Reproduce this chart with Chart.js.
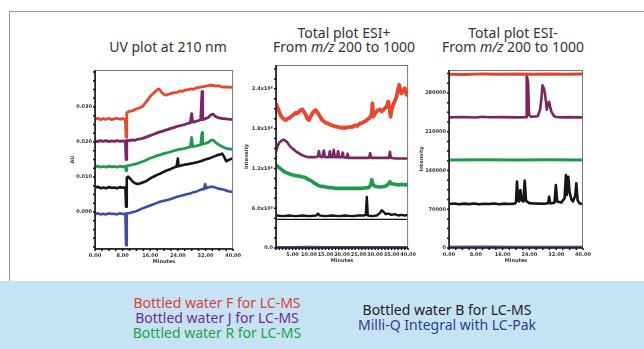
<!DOCTYPE html>
<html>
<head>
<meta charset="utf-8">
<script src="https://cdn.jsdelivr.net/npm/chart.js@4.4.1/dist/chart.umd.min.js"></script>
<style>
body{margin:0;background:#fff;width:644px;height:349px;overflow:hidden;position:relative;font-family:"Noto Sans",sans-serif;}
#frame{position:absolute;left:9px;top:11px;width:700px;height:270px;border-top:1.5px solid #999;border-left:1.5px solid #999;}
#band{position:absolute;left:0;top:281px;width:644px;height:68px;background:#c6e3f6;}
canvas{position:absolute;}
.t{position:absolute;font-size:14px;color:#333;text-align:center;white-space:nowrap;line-height:14px;}
.lg{position:absolute;font-size:14px;text-align:center;white-space:nowrap;line-height:15px;}
</style>
</head>
<body>
<div id="frame"></div>
<div id="band"></div>

<div class="t" style="left:88px;top:40px;width:160px;">UV plot at 210 nm</div>
<div class="t" style="left:264px;top:26px;width:160px;">Total plot ESI+<br>From <i>m/z</i> 200 to 1000</div>
<div class="t" style="left:433px;top:26px;width:160px;">Total plot ESI-<br>From <i>m/z</i> 200 to 1000</div>

<div class="lg" style="left:117px;top:295px;width:200px;color:#d8423a;">Bottled water F for LC-MS</div>
<div class="lg" style="left:117px;top:310px;width:200px;color:#6c2d91;">Bottled water J for LC-MS</div>
<div class="lg" style="left:117px;top:325px;width:200px;color:#27a145;">Bottled water R for LC-MS</div>
<div class="lg" style="left:347px;top:302px;width:200px;color:#222;">Bottled water B for LC-MS</div>
<div class="lg" style="left:347px;top:317px;width:200px;color:#2e3b8e;">Milli-Q Integral with LC-Pak</div>

<canvas id="uv" width="175" height="205" style="left:70px;top:60px;"></canvas>
<canvas id="pos" width="176" height="209" style="left:244px;top:55px;"></canvas>
<canvas id="neg" width="176" height="204" style="left:419px;top:60px;"></canvas>

<script>
// UV plot at 210 nm, [minutes, AU]
const uvF=[[0,0.0265],[0.8,0.0268],[1.6,0.0264],[2.4,0.0267],[3.2,0.0265],[4,0.0268],[4.8,0.0264],[5.6,0.0266],[6.4,0.0268],[7.2,0.0265],[8,0.0267],[8.8,0.0265],[9.0,0.0214],[9.2,0.0284],[9.8,0.0287],[10.6,0.0289],[11.4,0.0292],[12.2,0.0295],[13,0.0298],[13.8,0.0302],[14.6,0.0312],[15.4,0.0322],[16.2,0.0333],[17,0.034],[17.8,0.0347],[18.4,0.0352],[18.8,0.0349],[19.4,0.0341],[20,0.0336],[20.6,0.0334],[21.4,0.0337],[22.2,0.0339],[23,0.0341],[23.8,0.0342],[24.6,0.0346],[25.4,0.0345],[26.2,0.0349],[27,0.035],[27.8,0.0352],[28.6,0.0351],[29.4,0.0355],[30.2,0.0356],[31,0.0358],[31.8,0.0359],[32.6,0.0361],[33.4,0.0363],[34.2,0.0362],[35,0.036],[35.8,0.0361],[36.6,0.0358],[37.4,0.0357],[38.2,0.0358],[39,0.0356],[40,0.0357]];
const uvJ=[[0,0.0203],[0.8,0.0201],[1.6,0.0204],[2.4,0.0202],[3.2,0.0204],[4,0.0201],[4.8,0.0203],[5.6,0.0202],[6.4,0.0204],[7.2,0.0202],[8,0.0203],[8.8,0.0202],[9.0,0.015],[9.2,0.0205],[10,0.0204],[10.8,0.0206],[11.6,0.0205],[12.4,0.0208],[13.2,0.0209],[14,0.0211],[14.8,0.0214],[15.6,0.0217],[16.4,0.022],[17.2,0.0223],[18,0.0226],[18.8,0.0229],[19.6,0.0231],[20.4,0.0234],[21.2,0.0236],[22,0.0239],[22.8,0.0241],[23.6,0.0244],[24.4,0.0246],[25.2,0.0248],[26,0.025],[26.8,0.0253],[27.6,0.0255],[28,0.0281],[28.3,0.0257],[29,0.0258],[29.8,0.0261],[30.6,0.0263],[31.0,0.0344],[31.2,0.0264],[32,0.0267],[32.8,0.027],[33.6,0.0278],[34.2,0.028],[34.8,0.0274],[35.6,0.027],[36.4,0.0268],[37.2,0.0267],[38,0.0266],[39,0.0265],[40,0.0265]];
const uvR=[[0,0.0129],[0.8,0.0131],[1.6,0.0128],[2.4,0.013],[3.2,0.0128],[4,0.0131],[4.8,0.0129],[5.6,0.013],[6.4,0.0128],[7.2,0.0131],[8,0.0129],[8.8,0.013],[9.0,0.0118],[9.2,0.0132],[10,0.0133],[10.8,0.0135],[11.6,0.0137],[12.4,0.0139],[13.2,0.0142],[14,0.0145],[14.8,0.0148],[15.6,0.0152],[16.4,0.0155],[17.2,0.0158],[18,0.0161],[18.8,0.0163],[19.6,0.0166],[20.4,0.0168],[21.2,0.017],[22,0.0172],[22.8,0.0175],[23.6,0.0177],[24.4,0.0179],[25.2,0.018],[26,0.0182],[26.8,0.0184],[27.6,0.0186],[28,0.0213],[28.3,0.0187],[29,0.0188],[29.8,0.019],[30.6,0.0192],[31.0,0.0227],[31.2,0.0194],[32,0.0196],[32.8,0.0199],[33.6,0.0205],[34.2,0.0206],[34.8,0.02],[35.6,0.0194],[36.4,0.0189],[37.2,0.0185],[38,0.0182],[39,0.018],[40,0.0179]];
const uvB=[[0,0.0069],[0.8,0.0072],[1.6,0.0068],[2.4,0.007],[3.2,0.0068],[4,0.0071],[4.8,0.0069],[5.6,0.007],[6.4,0.0068],[7.2,0.0071],[8,0.0069],[8.8,0.007],[9.0,0.0015],[9.2,0.0098],[9.6,0.0101],[10.2,0.0095],[10.8,0.0088],[11.6,0.0082],[12.4,0.008],[13.2,0.0082],[14,0.0085],[14.8,0.0088],[15.6,0.0093],[16.4,0.0098],[17.2,0.0102],[18,0.0106],[18.8,0.0109],[19.6,0.0113],[20.4,0.0117],[21.2,0.012],[22,0.0123],[22.8,0.0127],[23.6,0.0129],[24.0,0.0153],[24.2,0.0131],[25,0.0133],[25.8,0.0135],[26.6,0.0136],[27.4,0.0138],[28.2,0.0139],[29,0.0141],[29.8,0.0143],[30.6,0.0145],[31.4,0.0148],[32.2,0.0151],[33,0.0153],[33.8,0.0156],[34.6,0.0159],[35.4,0.0162],[36.2,0.0164],[36.8,0.0167],[37.4,0.0158],[38,0.0145],[38.8,0.0149],[39.4,0.0152],[40,0.0151]];
const uvMQ=[[0,-0.0006],[0.8,-0.0004],[1.6,-0.0007],[2.4,-0.0005],[3.2,-0.0007],[4,-0.0004],[4.8,-0.0006],[5.6,-0.0005],[6.4,-0.0007],[7.2,-0.0004],[8,-0.0006],[8.8,-0.0005],[9.0,-0.0095],[9.2,-0.0004],[10,-0.0003],[10.8,-0.0001],[11.6,0.0001],[12.4,0.0004],[13.2,0.0008],[14,0.0011],[14.8,0.0014],[15.6,0.0017],[16.4,0.002],[17.2,0.0023],[18,0.0026],[18.8,0.0029],[19.6,0.0031],[20.4,0.0033],[21.2,0.0035],[22,0.0037],[22.8,0.004],[23.6,0.0043],[24.4,0.0045],[25.2,0.0047],[26,0.0049],[26.8,0.0051],[27.6,0.0053],[28.4,0.0056],[29.2,0.0058],[30,0.0061],[30.8,0.0064],[31.6,0.0066],[31.9,0.008],[32.2,0.0068],[33,0.0071],[33.8,0.0072],[34.6,0.0071],[35.4,0.0068],[36.2,0.0066],[37,0.0064],[37.8,0.0062],[38.6,0.0059],[39.4,0.0058],[40,0.0057]];
const uvXTicks=[0,8,16,24,32,40];
const uvYTicks=[0,0.01,0.02,0.03];

// Total plot ESI+, [minutes, intensity]
const posF=[[0,2.18e6],[0.5,2.12e6],[1,2.05e6],[1.5,1.99e6],[2,1.96e6],[2.5,1.94e6],[3,1.93e6],[3.5,1.95e6],[4,1.96e6],[4.5,1.98e6],[5,2.0e6],[5.5,2.02e6],[6,2.04e6],[6.5,2.03e6],[7,2.06e6],[7.5,2.08e6],[8,2.09e6],[8.5,2.05e6],[9,2.01e6],[9.5,1.95e6],[10,1.93e6],[10.5,1.98e6],[11,2.03e6],[11.5,2.06e6],[12,2.08e6],[12.5,2.05e6],[13,2.01e6],[13.5,1.97e6],[14,1.93e6],[14.5,1.91e6],[15,1.89e6],[15.5,1.88e6],[16,1.87e6],[16.5,1.86e6],[17,1.85e6],[17.5,1.84e6],[18,1.83e6],[18.5,1.83e6],[19,1.82e6],[19.5,1.82e6],[20,1.81e6],[20.5,1.82e6],[21,1.81e6],[21.5,1.82e6],[22,1.82e6],[22.5,1.83e6],[23,1.82e6],[23.5,1.84e6],[24,1.85e6],[24.5,1.84e6],[25,1.86e6],[25.5,1.88e6],[26,1.88e6],[26.5,1.9e6],[27,1.91e6],[27.5,1.93e6],[28,1.95e6],[28.5,1.97e6],[29,2.02e6],[29.2,2.18e6],[29.5,1.98e6],[30,2.03e6],[30.5,2.06e6],[31,2.08e6],[31.5,2.09e6],[32,2.06e6],[32.5,2.08e6],[33,2.11e6],[33.5,2.13e6],[34,2.21e6],[34.3,2.14e6],[34.7,1.98e6],[35,2.08e6],[35.5,2.16e6],[36,2.22e6],[36.5,2.28e6],[37,2.4e6],[37.3,2.46e6],[37.7,2.38e6],[38,2.33e6],[38.5,2.37e6],[39,2.41e6],[39.5,2.31e6],[40,2.36e6]];
const posJ=[[0,1.45e6],[0.5,1.54e6],[1,1.59e6],[1.5,1.61e6],[2,1.63e6],[2.5,1.63e6],[3,1.61e6],[3.5,1.59e6],[4,1.55e6],[4.5,1.52e6],[5,1.5e6],[5.5,1.48e6],[6,1.46e6],[6.5,1.44e6],[7,1.43e6],[7.5,1.41e6],[8,1.4e6],[8.5,1.39e6],[9,1.38e6],[10,1.37e6],[11,1.37e6],[12,1.37e6],[12.6,1.38e6],[13,1.46e6],[13.3,1.38e6],[14,1.37e6],[14.5,1.47e6],[14.8,1.37e6],[16,1.37e6],[16.3,1.46e6],[16.6,1.37e6],[17.2,1.37e6],[17.5,1.48e6],[17.8,1.37e6],[18.5,1.37e6],[18.8,1.46e6],[19.1,1.37e6],[19.9,1.37e6],[20.2,1.44e6],[20.5,1.37e6],[21.4,1.36e6],[21.7,1.42e6],[22,1.36e6],[24,1.36e6],[26,1.36e6],[28.2,1.36e6],[28.5,1.43e6],[28.8,1.36e6],[31,1.36e6],[33,1.36e6],[34.2,1.36e6],[34.5,1.45e6],[34.8,1.36e6],[36,1.35e6],[38,1.35e6],[40,1.35e6]];
const posR=[[0,1.25e6],[0.5,1.23e6],[1,1.21e6],[1.5,1.19e6],[2,1.17e6],[2.5,1.15e6],[3,1.14e6],[3.5,1.13e6],[4,1.12e6],[4.5,1.11e6],[5,1.1e6],[5.5,1.1e6],[6,1.09e6],[6.5,1.09e6],[7,1.08e6],[7.5,1.08e6],[8,1.07e6],[8.5,1.07e6],[9,1.06e6],[9.5,1.04e6],[10,1.03e6],[10.5,1.02e6],[11,1.0e6],[11.5,0.98e6],[12,0.97e6],[12.5,0.95e6],[13,0.94e6],[13.5,0.93e6],[14,0.93e6],[15,0.92e6],[16,0.91e6],[17,0.91e6],[18,0.9e6],[20,0.9e6],[22,0.9e6],[24,0.9e6],[26,0.9e6],[28,0.91e6],[28.7,0.95e6],[29,1.03e6],[29.3,0.96e6],[30,0.93e6],[31,0.92e6],[32,0.92e6],[33,0.93e6],[34,0.96e6],[34.5,1.0e6],[35,0.97e6],[36,0.96e6],[37,0.95e6],[38,0.96e6],[39,0.95e6],[40,0.96e6]];
const posB=[[0,0.49e6],[2,0.48e6],[4,0.49e6],[6,0.48e6],[8,0.49e6],[10,0.48e6],[12.2,0.49e6],[12.7,0.52e6],[13.2,0.49e6],[15,0.48e6],[17,0.49e6],[19,0.48e6],[21,0.49e6],[23,0.48e6],[25,0.49e6],[26.5,0.49e6],[27.2,0.5e6],[27.5,0.77e6],[27.8,0.49e6],[29,0.48e6],[30.5,0.49e6],[31.5,0.53e6],[32,0.57e6],[32.5,0.55e6],[33.2,0.51e6],[34,0.52e6],[35,0.5e6],[36,0.51e6],[37,0.49e6],[38,0.5e6],[39,0.49e6],[40,0.5e6]];
const posBase=[[0,0.433e6],[40,0.433e6]];
const posMQ=[[0,0.016e6],[5,0.014e6],[10,0.017e6],[15,0.015e6],[20,0.016e6],[25,0.014e6],[30,0.016e6],[35,0.015e6],[40,0.016e6]];
const posXTicks=[5,10,15,20,25,30,35,40];
const posYTicks=[0,6e5,1.2e6,1.8e6,2.4e6];

// Total plot ESI-, [minutes, intensity]
const negF=[[0,314000],[5,313500],[10,314500],[15,313800],[20,314200],[25,313700],[30,314300],[35,313900],[40,314100]];
const negJ=[[0,236000],[4,236500],[8,235800],[10,237000],[12,236200],[16,236400],[20,236000],[23.0,236300],[23.2,312000],[23.6,300000],[23.9,240000],[24.5,237000],[26.5,238000],[27.2,250000],[27.6,270000],[27.9,294000],[28.3,289000],[28.6,280000],[29.0,262000],[29.2,250000],[29.6,262000],[29.9,264000],[30.3,252000],[30.6,246000],[31.4,238000],[32,236500],[34,236000],[36,236300],[38,235900],[40,236000]];
const negR=[[0,159000],[10,159300],[20,158800],[30,159200],[40,159000]];
const negB=[[0,79500],[1.5,80500],[3,79000],[4.5,80200],[6,79300],[7.5,80400],[9,79100],[10.5,80000],[12,79400],[13.5,80300],[15,79000],[16.5,80100],[18,79500],[19.5,80200],[20.0,82000],[20.3,119800],[20.6,88000],[20.9,84000],[21.3,104800],[21.7,86000],[22.2,84000],[22.6,121600],[23.0,85000],[24,81000],[25.5,80500],[27,80200],[28.5,80000],[29.6,81000],[29.9,92700],[30.2,80500],[31.5,82000],[31.9,113800],[32.3,84000],[33.5,82000],[34.5,90000],[34.9,131900],[35.2,96000],[35.6,128800],[36.0,101700],[36.5,88000],[37,84000],[37.7,95000],[38.0,116900],[38.4,86000],[39,80500],[40,80000]];
const negMQ=[[0,2300],[10,2500],[20,2200],[30,2400],[40,2300]];
const negXTicks=[0,8,16,24,32,40];
const negYTicks=[0,70000,140000,210000,280000];

const RED="#e8472b", PURPLE="#7d2466", GREEN="#1f9a4e", BLACK="#151515", BLUE="#3d4ba6";

function toPts(arr){ return arr.map(p=>({x:p[0], y:p[1]})); }
function ds(arr, color, w){ return {data:toPts(arr), borderColor:color, borderWidth:w, pointRadius:0, tension:0, borderJoinStyle:"round"}; }

const framePlugin={
  id:"frame",
  afterDraw(chart, args, opts){
    const ctx=chart.ctx, a=chart.chartArea, x=chart.scales.x, y=chart.scales.y;
    ctx.save();
    ctx.strokeStyle="#777"; ctx.lineWidth=1;
    ctx.strokeRect(a.left+0.5, a.top+0.5, a.right-a.left-1, a.bottom-a.top-1);
    ctx.strokeStyle="#111"; ctx.lineWidth=1.5;
    ctx.beginPath();
    ctx.moveTo(a.left, a.top); ctx.lineTo(a.left, a.bottom); ctx.lineTo(a.right, a.bottom);
    for(let v=x.min; v<=x.max+1e-9; v+=opts.xMinor){ const px=x.getPixelForValue(v); ctx.moveTo(px, a.bottom); ctx.lineTo(px, a.bottom+2); }
    for(let v=opts.yStart; v<=y.max; v+=opts.yMinor){ if(v<y.min) continue; const py=y.getPixelForValue(v); ctx.moveTo(a.left, py); ctx.lineTo(a.left-2, py); }
    ctx.stroke();
    ctx.restore();
  }
};

function makePanel(id, datasets, o){
  return new Chart(document.getElementById(id).getContext("2d"), {
    type:"line",
    data:{datasets},
    plugins:[framePlugin],
    options:{
      responsive:false, animation:false, devicePixelRatio:1,
      layout:{padding:{top:10, right:o.padRight, left:0, bottom:0}},
      plugins:{legend:{display:false}, tooltip:{enabled:false}, frame:{xMinor:o.xMinor, yMinor:o.yMinor, yStart:o.yStart}},
      scales:{
        x:{type:"linear", min:0, max:40,
          afterBuildTicks:s=>{ s.ticks=o.xTicks.map(v=>({value:v})); },
          afterFit:s=>{ s.height=16; },
          grid:{display:false, drawTicks:false}, border:{display:false},
          ticks:{font:{size:5, family:"DejaVu Sans", weight:"bold"}, color:"#333", padding:4, maxRotation:0, autoSkip:false, callback:v=>v.toFixed(2)},
          title:{display:true, text:"Minutes", font:{size:5, family:"DejaVu Sans", weight:"bold"}, color:"#333", padding:{top:0, bottom:0}}
        },
        y:{type:"linear", min:o.yMin, max:o.yMax,
          afterBuildTicks:s=>{ s.ticks=o.yTicks.map(v=>({value:v})); },
          afterFit:s=>{ s.width=o.yWidth; },
          grid:{display:false, drawTicks:false}, border:{display:false},
          ticks:{font:{size:5, family:"DejaVu Sans", weight:"bold"}, color:"#333", padding:3, autoSkip:false, callback:o.yFmt},
          title:{display:true, text:o.yTitle, font:{size:5, family:"DejaVu Sans", weight:"bold"}, color:"#333", padding:{top:0, bottom:1}}
        }
      }
    }
  });
}

function sci(v){
  if(v===0) return "0.0";
  const e=Math.floor(Math.log10(v)+1e-9);
  const sup={5:"\u2075",6:"\u2076"};
  return (v/Math.pow(10,e)).toFixed(1)+"x10"+sup[e];
}

makePanel("uv", [ds(uvF,RED,2.8), ds(uvJ,PURPLE,2.8), ds(uvR,GREEN,2.8), ds(uvB,BLACK,2.6), ds(uvMQ,BLUE,2.6)], {
  padRight:10, yWidth:25, yMin:-0.0106, yMax:0.0406, xTicks:uvXTicks, yTicks:uvYTicks,
  xMinor:2, yMinor:0.0025, yStart:-0.01, yTitle:"AU", yFmt:v=>v.toFixed(3)
});

makePanel("pos", [ds(posF,RED,3.8), ds(posJ,PURPLE,2.6), ds(posR,GREEN,3.6), ds(posBase,BLACK,1.2), ds(posB,BLACK,2.4), ds(posMQ,BLUE,2)], {
  padRight:8, yWidth:32, yMin:0, yMax:2.76e6, xTicks:posXTicks, yTicks:posYTicks,
  xMinor:1, yMinor:1.5e5, yStart:0, yTitle:"Intensity", yFmt:sci
});

makePanel("neg", [ds(negF,"#e84030",3), ds(negJ,PURPLE,2.6), ds(negR,GREEN,3), ds(negB,BLACK,2.6), ds(negMQ,BLUE,2)], {
  padRight:12, yWidth:30, yMin:0, yMax:321500, xTicks:negXTicks, yTicks:negYTicks,
  xMinor:2, yMinor:17500, yStart:0, yTitle:"Intensity", yFmt:v=>String(v)
});
</script>
</body>
</html>
